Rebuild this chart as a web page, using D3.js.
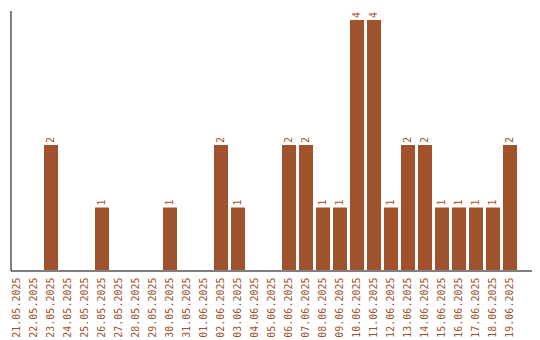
<!DOCTYPE html>
<html>
<head>
<meta charset="utf-8">
<script src="https://cdn.jsdelivr.net/npm/d3@7"></script>
<style>
  html, body { margin: 0; padding: 0; background: #fff; }
  svg { display: block; }
  text { font-family: "DejaVu Sans Mono", monospace; font-size: 10px; }
</style>
</head>
<body>
<svg id="chart" width="540" height="340"></svg>
<script>
const categories = ["21.05.2025","22.05.2025","23.05.2025","24.05.2025","25.05.2025","26.05.2025","27.05.2025","28.05.2025","29.05.2025","30.05.2025","31.05.2025","01.06.2025","02.06.2025","03.06.2025","04.06.2025","05.06.2025","06.06.2025","07.06.2025","08.06.2025","09.06.2025","10.06.2025","11.06.2025","12.06.2025","13.06.2025","14.06.2025","15.06.2025","16.06.2025","17.06.2025","18.06.2025","19.06.2025"];
const values = [0,0,2,0,0,1,0,0,0,1,0,0,2,1,0,0,2,2,1,1,4,4,1,2,2,1,1,1,1,2];

const color = "#a0522d";
const svg = d3.select("#chart");
const mLeft = 10, mRight = 531, mTop = 10, mBottom = 270;

const x = d3.scaleBand().domain(categories).range([mLeft, mRight])
  .paddingInner(3/17).paddingOuter(0.412).align(0);
const y = d3.scaleLinear().domain([0, d3.max(values) * 1.04]).range([mBottom, mTop]);

const data = categories.map((c, i) => ({c, v: values[i]}));

svg.append("g").selectAll("rect").data(data.filter(d => d.v > 0)).join("rect")
  .attr("x", d => x(d.c)).attr("y", d => y(d.v))
  .attr("width", x.bandwidth()).attr("height", d => y(0) - y(d.v))
  .attr("fill", color);

svg.append("g").selectAll("text").data(data.filter(d => d.v > 0)).join("text")
  .attr("transform", d => `translate(${x(d.c) + x.bandwidth()/2},${y(d.v) - 2}) rotate(-90)`)
  .attr("dy", "0.35em").attr("text-anchor", "start").attr("fill", color)
  .text(d => d.v);

const xa = svg.append("g").attr("transform", `translate(0.5,${mBottom + 0.5})`)
  .call(d3.axisBottom(x).tickSize(0).tickSizeOuter(0));
xa.select(".domain").attr("stroke", "#000");
xa.selectAll(".tick text")
  .attr("transform", "rotate(-90)").attr("text-anchor", "end")
  .attr("x", -7).attr("y", -0.5).attr("dy", "0.35em")
  .attr("fill", color).style("font-family", "DejaVu Sans Mono").style("font-size", "10px");

const ya = svg.append("g").attr("transform", `translate(${mLeft + 0.5},0.5)`)
  .call(d3.axisLeft(y).ticks(0).tickSize(0).tickSizeOuter(0));
ya.selectAll(".tick").remove();
ya.select(".domain").attr("stroke", "#000");
</script>
</body>
</html>
